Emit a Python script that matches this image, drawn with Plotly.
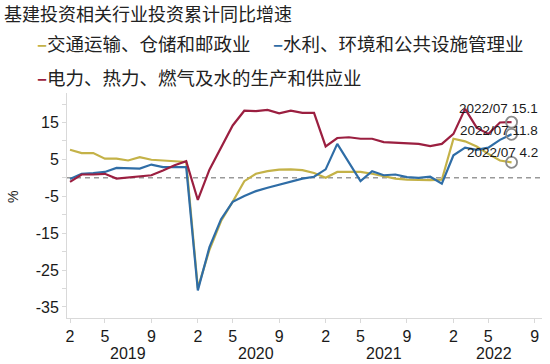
import plotly.graph_objects as go

# ---------------- data ----------------
periods = ([f"{y}/{m:02d}" for y in (2019, 2020, 2021) for m in range(2, 13)]
           + [f"2022/{m:02d}" for m in range(2, 10)])

transport = [7.6, 6.7, 6.7, 5.2, 5.2, 4.7, 5.6, 4.9, 4.7, 4.5, 4.3,
             -29.9, -19.5, -11.7, -6.5, -0.9, 1.1, 1.8, 2.2, 2.3, 2.1, 1.3,
             0.0, 1.6, 1.6, 1.6, 1.1, 0.5, -0.2, -0.5, -0.6, -0.6, -0.5,
             10.6, 9.9, 8.5, 6.5, 4.7, 4.2]
water = [-0.3, 1.1, 1.3, 1.6, 2.7, 2.7, 2.5, 3.6, 2.9, 2.9, 2.9,
         -30.5, -18.8, -11.2, -6.5, -4.9, -3.6, -2.7, -1.8, -0.9, -0.2, 0.3,
         2.3, 9.2, 4.0, -0.9, 1.8, 0.7, 0.9, 0.2, 0.0, 0.3, -1.6,
         6.1, 8.2, 7.6, 8.2, 10.3, 11.8]
power = [-1.1, 0.9, 0.9, 1.1, -0.2, 0.1, 0.4, 0.7, 2.0, 3.4, 4.5,
         -6.0, 2.2, 8.1, 14.2, 18.2, 18.1, 18.4, 17.5, 18.2, 17.6, 17.6,
         8.5, 10.8, 11.0, 10.6, 10.6, 9.7, 9.5, 9.4, 9.2, 8.6, 9.2,
         11.9, 18.7, 13.6, 11.9, 15.0, 15.1]

names = ["交通运输、仓储和邮政业", "水利、环境和公共设施管理业", "电力、热力、燃气及水的生产和供应业"]
series = [transport, water, power]
colors = ["#C4B248", "#2F6DA6", "#9B1F40"]
label_yshift = [9.5, 3.7, 13.5]

tick_months = ["02", "05", "09"]
years = ["2019", "2020", "2021", "2022"]
yticks = list(range(-35, 21, 5))
ylabels = [-35, -25, -15, -5, 5, 15]

title = "基建投资相关行业投资累计同比增速"

# ---------------- layout helpers ----------------
W, H = 550, 364
L, R, T, B = 67, 8, 93, 46
PW, PH = W - L - R, H - T - B


def px(xp):
    return (xp - L) / PW


def py(yp):
    return (H - B - yp) / PH


CJK = "Noto Sans CJK SC"
LAT = "Liberation Sans, Arial"

fig = go.Figure()

for vals, name, col in zip(series, names, colors):
    fig.add_trace(go.Scatter(
        x=list(range(len(vals))), y=vals, mode="lines", name=name,
        line=dict(color=col, width=2.2), showlegend=False, hoverinfo="skip"))

last_idx = len(transport) - 1
fig.add_trace(go.Scatter(
    x=[last_idx] * 3, y=[s[-1] for s in series], mode="markers",
    marker=dict(size=11, color="rgba(255,255,255,0)",
                line=dict(color="#8a8a8a", width=1.8)),
    showlegend=False, hoverinfo="skip"))

# zero reference line
fig.add_shape(type="line", xref="paper", x0=0, x1=1, yref="y", y0=0, y1=0,
              line=dict(color="#999999", width=1.5, dash="5px,4px"), layer="below")

tickvals = [i for i, p in enumerate(periods) if p[-2:] in tick_months]
ticktext = [str(int(periods[i][-2:])) for i in tickvals]

ann = []
# title
ann.append(dict(text=title, x=px(2), y=py(13), xref="paper", yref="paper",
                xanchor="left", yanchor="middle", showarrow=False,
                font=dict(family=CJK, size=18, color="#222222")))
# legend
legend_pos = [(35, 43), (271, 43), (35, 77)]
for (lx, ly), name, col in zip(legend_pos, names, colors):
    ann.append(dict(text=f"<span style='color:{col}'><b>–</b></span>{name}",
                    x=px(lx), y=py(ly), xref="paper", yref="paper",
                    xanchor="left", yanchor="middle", showarrow=False,
                    font=dict(family=CJK, size=18.5, color="#222222")))
# years
for yr in years:
    idx = [i for i, p in enumerate(periods) if p.startswith(yr)]
    ann.append(dict(text=yr, x=sum(idx) / len(idx), y=py(353), xref="x", yref="paper",
                    xanchor="center", yanchor="middle", showarrow=False,
                    font=dict(family=LAT, size=16, color="#1a1a1a")))
# y-axis unit
ann.append(dict(text="%", x=px(13), y=py(197), xref="paper", yref="paper",
                textangle=-90, showarrow=False, xanchor="center", yanchor="middle",
                font=dict(family=LAT, size=14, color="#1a1a1a")))
# end-point labels
for vals, ys in zip(series, label_yshift):
    ann.append(dict(text=f"{periods[last_idx]} {vals[-1]}", x=last_idx, y=vals[-1],
                    xref="x", yref="y", xanchor="right", yanchor="middle",
                    xshift=28, yshift=ys, showarrow=False,
                    font=dict(family=LAT, size=13.5, color="#1a1a1a")))

fig.update_layout(
    width=W, height=H, margin=dict(l=L, r=R, t=T, b=B),
    paper_bgcolor="white", plot_bgcolor="white",
    annotations=ann, showlegend=False,
    xaxis=dict(range=[-0.26, 40.62], tickvals=tickvals, ticktext=ticktext,
               showgrid=False, zeroline=False, showline=True, linecolor="#d9d9d9",
               linewidth=1, ticks="outside", ticklen=4, tickcolor="#d9d9d9",
               tickfont=dict(family=LAT, size=16, color="#1a1a1a")),
    yaxis=dict(range=[-38, 23], tickvals=yticks,
               ticktext=[str(v) if v in ylabels else "" for v in yticks],
               showgrid=False, zeroline=False, showline=True, linecolor="#d9d9d9",
               linewidth=1, ticks="outside", ticklen=4, tickcolor="#d9d9d9",
               tickfont=dict(family=LAT, size=16, color="#1a1a1a")),
)

fig.write_html("out.html", config={"displayModeBar": False},
               post_script="document.body.style.margin='0';")
